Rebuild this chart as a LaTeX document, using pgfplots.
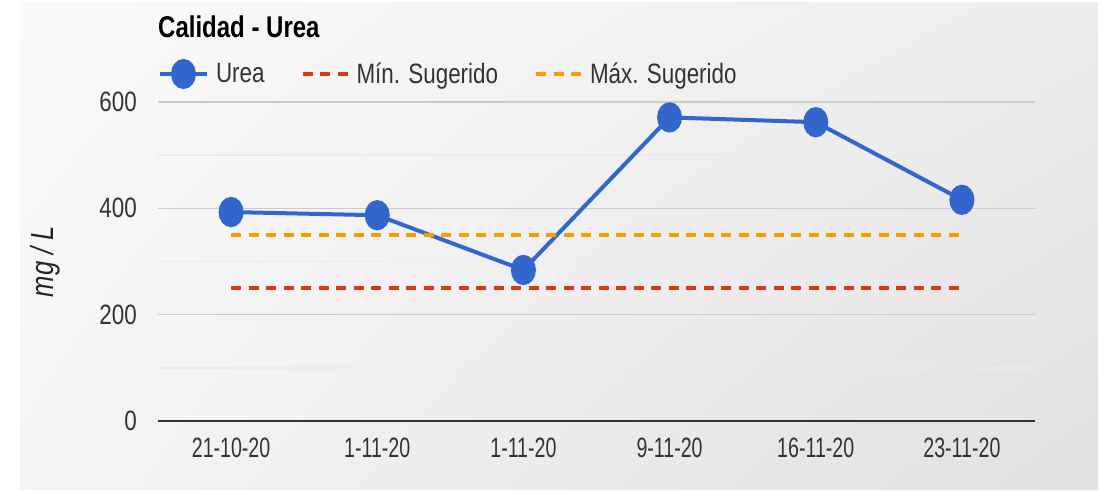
\documentclass[border=0pt]{standalone}
\usepackage{fontspec}
\setmainfont{Liberation Sans}[FakeStretch=0.8]
\newfontfamily\xtickfont{Liberation Sans}[FakeStretch=0.7]
\usepackage{pgfplots}
\usepackage{pgfplotstable}
\usetikzlibrary{shadings}
\pgfplotsset{compat=1.18}
\definecolor{urea}{HTML}{3366CC}
\definecolor{minc}{HTML}{DC3912}
\definecolor{maxc}{HTML}{FF9900}
\definecolor{txt}{HTML}{333333}
\definecolor{majg}{HTML}{CCCCCC}
\definecolor{ming}{HTML}{EBEBEB}
\definecolor{axc}{HTML}{333333}

\pgfplotstableread{
x urea minv maxv
0 393 250 350
1 387 250 350
2 284 250 350
3 571 250 350
4 562 250 350
5 416 250 350
}\datatable

\begin{document}
\begin{tikzpicture}[x=1pt,y=1pt,font=\fontsize{28}{32}\selectfont]
\path[use as bounding box] (0,0) rectangle (1109,492);
\shade[upper left=white!98!black, upper right=white!93!black, lower left=white!96!black, lower right=white!88!black] (20,2) rectangle (1098,489);
\begin{axis}[
  at={(158pt,71pt)}, anchor=south west,
  scale only axis, width=877pt, height=319pt,
  xmin=-0.5, xmax=5.5, ymin=0, ymax=600,
  /pgf/number format/assume math mode=true,
  xtick={0,1,2,3,4,5},
  xticklabels={21-10-20,1-11-20,1-11-20,9-11-20,16-11-20,23-11-20},
  ytick={0,200,400,600}, minor ytick={100,300,500},
  ymajorgrids, yminorgrids,
  major grid style={majg, line width=1.5pt},
  minor grid style={ming, line width=1.5pt},
  major tick length=0pt, minor tick length=0pt,
  tick style={draw=none},
  axis x line*=bottom, axis y line*=left,
  y axis line style={draw=none},
  x axis line style={axc, line width=2.5pt, -},
  yticklabel style={text=txt, anchor=east, inner sep=0pt, xshift=-21pt},
  xticklabel style={text=txt, anchor=north, inner sep=0pt, yshift=-17pt, font=\fontsize{28}{32}\xtickfont},
  title={\bfseries Calidad - Urea},
  title style={at={(axis description cs:0,1.2006)}, anchor=base west, inner sep=0pt, yshift=-5pt, text=black, font=\fontsize{30}{34}\selectfont},
  ylabel={\itshape mg / L},
  ylabel style={at={(axis description cs:-0.1288,0.5)}, anchor=center, text=black!85, inner sep=0pt, font=\fontsize{32}{36}\selectfont},
  legend cell align=left,
  legend style={at={(axis description cs:0,1.0878)}, anchor=west, draw=none, fill=none,
    inner sep=0pt, outer sep=0pt, legend columns=3,
    nodes={inner sep=0pt, text=txt},
    /tikz/every odd column/.append style={column sep=7pt},
    /tikz/every even column/.append style={column sep=36pt}},
]
\addplot[urea, line width=4pt, mark=*, mark size=10.5pt,
  mark options={solid, fill=urea, draw=none, yscale=1.25},
  legend image code/.code={
    \draw[urea, line width=4pt] (0pt,0pt) -- (47pt,0pt);
    \fill[urea] (23.5pt,0pt) ellipse [x radius=10.5pt, y radius=13pt];}]
  table[x=x, y=urea] {\datatable};
\addlegendentry{Urea}
\addplot[minc, line width=4pt, dash pattern=on 10pt off 7.5pt,
  legend image code/.code={
    \draw[minc, line width=4pt, dash pattern=on 10pt off 7.5pt] (0pt,0pt) -- (45pt,0pt);}]
  table[x=x, y=minv] {\datatable};
\addlegendentry{Mín. Sugerido}
\addplot[maxc, line width=4pt, dash pattern=on 10pt off 7.5pt,
  legend image code/.code={
    \draw[maxc, line width=4pt, dash pattern=on 10pt off 7.5pt] (0pt,0pt) -- (45pt,0pt);}]
  table[x=x, y=maxv] {\datatable};
\addlegendentry{Máx. Sugerido}
\end{axis}
\end{tikzpicture}
\end{document}
